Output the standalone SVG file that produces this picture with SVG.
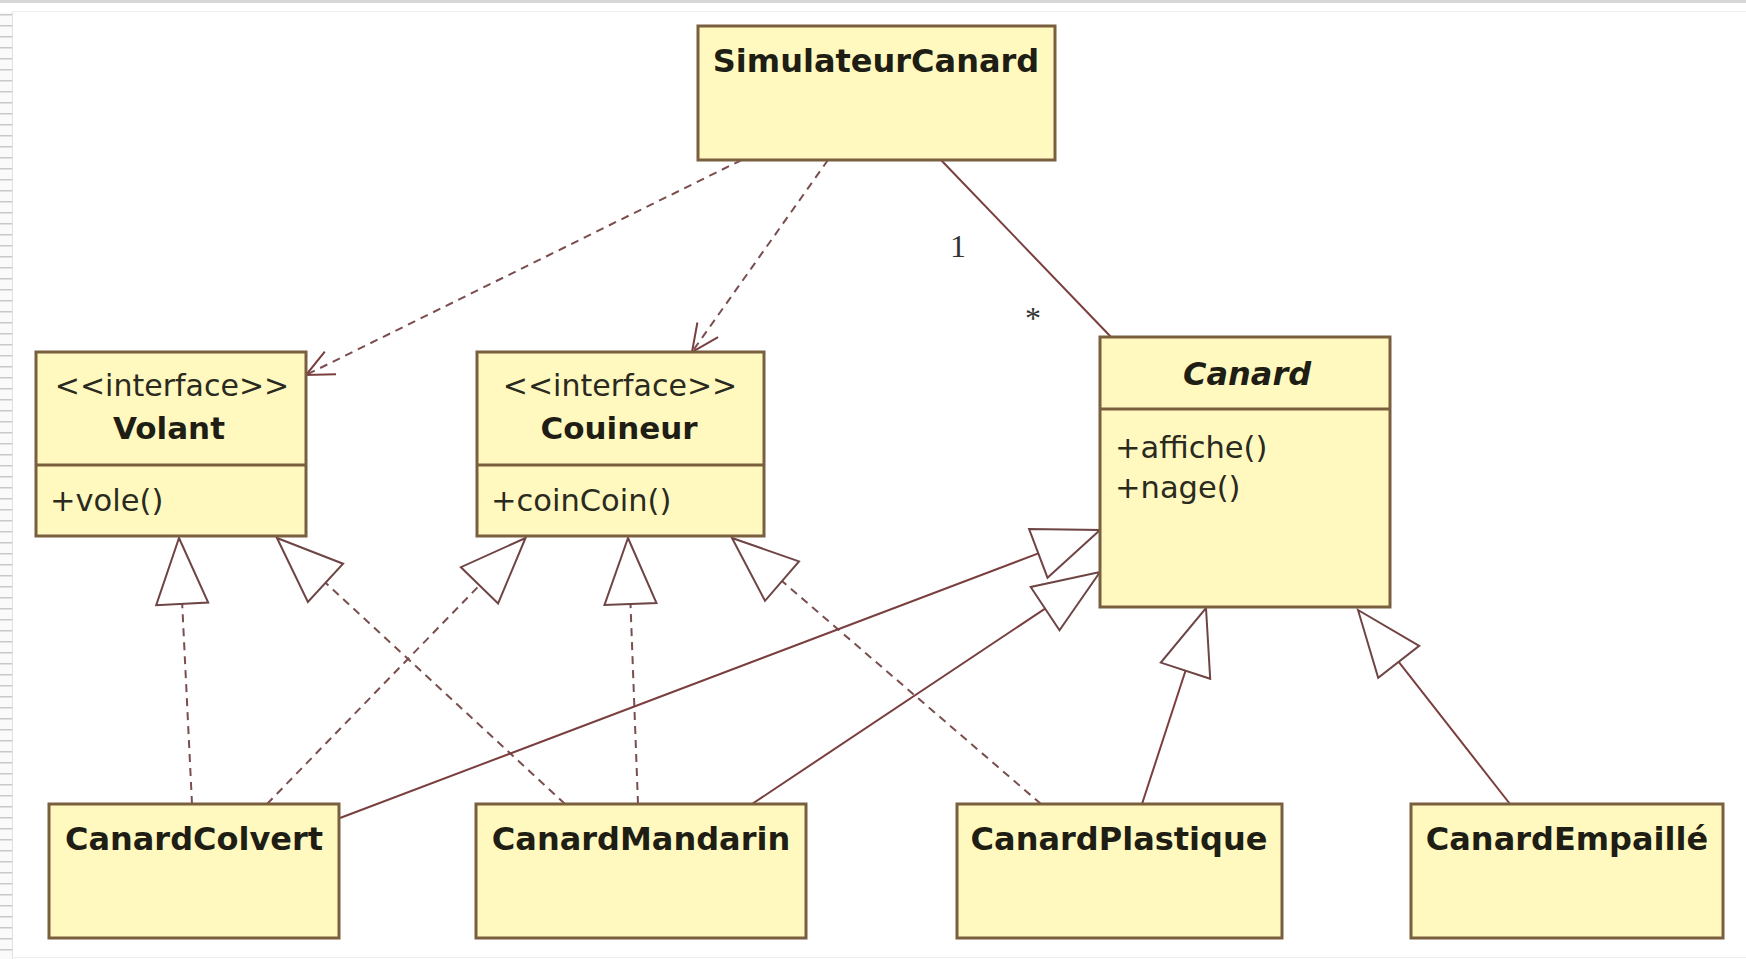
<svg xmlns="http://www.w3.org/2000/svg" width="1746" height="959" viewBox="0 0 1746 959">
<defs>
<style>
.box{fill:#FFF9C0;stroke:#7A5F3F;stroke-width:3}
.sep{stroke:#7A5F3F;stroke-width:3}
.name{font-family:"DejaVu Sans",sans-serif;font-weight:bold;font-size:32px;fill:#1E1E14;text-anchor:middle}
.iname{font-family:"DejaVu Sans",sans-serif;font-weight:bold;font-size:31px;fill:#1E1E14;text-anchor:middle}
.stereo{font-family:"DejaVu Sans",sans-serif;font-size:30px;fill:#2A2A1E;text-anchor:middle}
.op{font-family:"DejaVu Sans",sans-serif;font-size:30.5px;fill:#2A2A1E}
.mult{font-family:"Liberation Serif",serif;font-size:32px;fill:#333}
.ln{stroke:#7A3E3E;stroke-width:2;fill:none}
.dash{stroke:#7A4E4E;stroke-width:2;fill:none;stroke-dasharray:8 6}
.tri{stroke:#6E4444;stroke-width:2;fill:#FFFFFF;stroke-linejoin:miter}
.open{stroke:#7A3E3E;stroke-width:2;fill:none}
</style>
<pattern id="ticks" x="0" y="14" width="12" height="11" patternUnits="userSpaceOnUse">
<rect width="12" height="11" fill="#FAFAFA"/>
<line x1="0" y1="0.75" x2="12" y2="0.75" stroke="#C8C8C8" stroke-width="1.5"/>
</pattern>
</defs>
<rect x="0" y="0" width="1746" height="959" fill="#FFFFFF"/>
<rect x="0" y="0" width="1746" height="3" fill="#D8D8D8"/>
<line x1="12" y1="11.5" x2="1746" y2="11.5" stroke="#F0F0F0" stroke-width="1"/>
<rect x="0" y="12" width="12" height="947" fill="url(#ticks)"/>
<line x1="12.5" y1="12" x2="12.5" y2="959" stroke="#E2E2E2" stroke-width="1"/>
<line x1="12" y1="957.5" x2="1746" y2="957.5" stroke="#EDEDED" stroke-width="1"/>

<g id="connectors">
  <!-- association -->
  <line class="ln" x1="941" y1="160" x2="1111" y2="337"/>
  <text class="mult" x="950" y="257">1</text>
  <text class="mult" x="1025" y="329">*</text>
  <!-- dependencies -->
  <line class="dash" x1="741.6" y1="160" x2="306" y2="375"/>
  <polyline class="open" points="336,374.3 306,375 324.8,351.6"/>
  <line class="dash" x1="828" y1="160" x2="692" y2="352"/>
  <polyline class="open" points="718.1,337.1 692,352 697.4,322.5"/>
  <!-- realizations -->
  <line class="dash" x1="192" y1="804" x2="182.2" y2="603.9"/>
  <line class="dash" x1="565" y1="804" x2="325.5" y2="582.8"/>
  <line class="dash" x1="267" y1="804" x2="479.5" y2="585.3"/>
  <line class="dash" x1="638" y1="804" x2="630.5" y2="604"/>
  <line class="dash" x1="1041" y1="804" x2="782" y2="581.1"/>
  <!-- generalizations -->
  <line class="ln" x1="340" y1="818" x2="1038.3" y2="553.4"/>
  <line class="ln" x1="752" y1="804" x2="1045.1" y2="608.6"/>
  <line class="ln" x1="1142" y1="804" x2="1185.5" y2="670.7"/>
  <line class="ln" x1="1510" y1="804" x2="1398.7" y2="661.9"/>
  <!-- triangles -->
  <polygon class="tri" points="179,538 208.2,602.6 156.2,605.2"/>
  <polygon class="tri" points="277,538 343.1,563.7 307.9,601.9"/>
  <polygon class="tri" points="525.5,538 498.1,603.4 460.9,567.2"/>
  <polygon class="tri" points="628,538 656.5,603 604.5,605"/>
  <polygon class="tri" points="732,538 799,561.4 765,600.8"/>
  <polygon class="tri" points="1100,530 1047.5,577.7 1029.1,529.1"/>
  <polygon class="tri" points="1100,572 1059.5,630.2 1030.7,587"/>
  <polygon class="tri" points="1206,608 1210.2,678.8 1160.8,662.6"/>
  <polygon class="tri" points="1358,610 1419.2,645.9 1378.2,677.9"/>
</g>

<g id="SimulateurCanard">
  <rect class="box" x="698" y="26" width="357" height="134"/>
  <text class="name" x="876" y="72">SimulateurCanard</text>
</g>

<g id="Volant">
  <rect class="box" x="36" y="352" width="270" height="184"/>
  <line class="sep" x1="36" y1="465" x2="306" y2="465"/>
  <text class="stereo" x="172" y="396">&lt;&lt;interface&gt;&gt;</text>
  <text class="iname" x="169" y="439">Volant</text>
  <text class="op" x="50" y="511">+vole()</text>
</g>

<g id="Couineur">
  <rect class="box" x="477" y="352" width="287" height="184"/>
  <line class="sep" x1="477" y1="465" x2="764" y2="465"/>
  <text class="stereo" x="620" y="396">&lt;&lt;interface&gt;&gt;</text>
  <text class="iname" x="619" y="439">Couineur</text>
  <text class="op" x="491" y="511">+coinCoin()</text>
</g>

<g id="Canard">
  <rect class="box" x="1100" y="337" width="290" height="270"/>
  <line class="sep" x1="1100" y1="409" x2="1390" y2="409"/>
  <text class="name" x="1247" y="385" font-style="italic">Canard</text>
  <text class="op" x="1115" y="458">+affiche()</text>
  <text class="op" x="1115" y="498">+nage()</text>
</g>

<g id="CanardColvert">
  <rect class="box" x="49" y="804" width="290" height="134"/>
  <text class="name" x="194" y="850">CanardColvert</text>
</g>

<g id="CanardMandarin">
  <rect class="box" x="476" y="804" width="330" height="134"/>
  <text class="name" x="641" y="850">CanardMandarin</text>
</g>

<g id="CanardPlastique">
  <rect class="box" x="957" y="804" width="325" height="134"/>
  <text class="name" x="1119" y="850">CanardPlastique</text>
</g>

<g id="CanardEmpaille">
  <rect class="box" x="1411" y="804" width="312" height="134"/>
  <text class="name" x="1567" y="850">CanardEmpaillé</text>
</g>
</svg>
